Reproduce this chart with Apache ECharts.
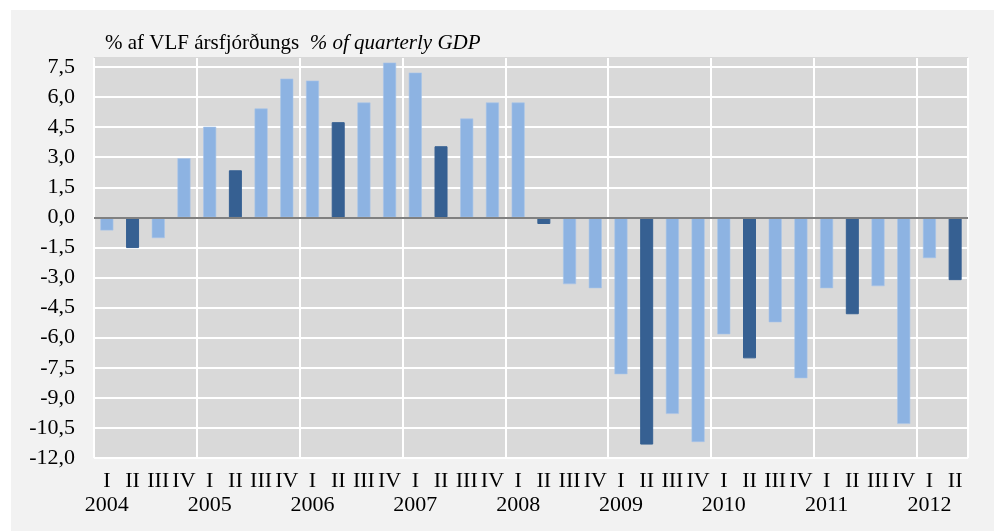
<!DOCTYPE html>
<html>
<head>
<meta charset="utf-8">
<script src="https://cdn.jsdelivr.net/npm/echarts@6/dist/echarts.min.js"></script>
<style>
html,body{margin:0;padding:0;background:#ffffff;}
#wrap{position:absolute;left:11px;top:10px;width:983px;height:521px;background:#F2F2F2;}
#chart{position:absolute;left:0;top:0;width:994px;height:531px;}
</style>
</head>
<body>
<div id="wrap"></div>
<div id="chart"></div>
<script>
const years = ["2004","2005","2006","2007","2008","2009","2010","2011","2012"];
const quarters = ["I","II","III","IV"];
const values = [
  -0.65, -1.53, -1.03, 2.95,
  4.52, 2.35, 5.43, 6.92,
  6.82, 4.75, 5.73, 7.72,
  7.22, 3.55, 4.93, 5.73,
  5.73, -0.33, -3.33, -3.53,
  -7.82, -11.33, -9.8, -11.2,
  -5.83, -7.03, -5.23, -8.02,
  -3.53, -4.83, -3.43, -10.3,
  -2.03, -3.13
];
const yTicks = {min: -12, max: 7.95, interval: 1.5};
const highlightQuarter = "II";

const categories = [];
const catQuarter = [];
const catYear = [];
for (let i = 0; i < values.length; i++) {
  const y = years[Math.floor(i / 4)];
  const q = quarters[i % 4];
  categories.push(y + " " + q);
  catQuarter.push(q);
  catYear.push(y);
}
const lightColor = "#8DB3E2";
const darkColor = "#366092";
const barData = values.map((v, i) => {
  const dark = catQuarter[i] === highlightQuarter;
  return {
    value: v,
    itemStyle: dark
      ? {color: darkColor, borderColor: darkColor, borderWidth: 1}
      : {color: lightColor, borderColor: "#A7C5EA", borderWidth: 0.6}
  };
});

// horizontal grid line colours: white for every tick, none for the top (max) edge
const nLines = Math.floor((7.5 - yTicks.min) / yTicks.interval) + 1;
const hLineColors = [];
for (let i = 0; i < nLines; i++) hLineColors.push("#FFFFFF");
hLineColors.push("#D9D9D9");

const chart = echarts.init(document.getElementById("chart"), null, {renderer: "canvas"});
const FONT = "Liberation Serif";
chart.setOption({
  backgroundColor: "transparent",
  animation: false,
  title: {
    left: 100,
    top: 28,
    text: "{a|% af VLF ársfjórðungs  }{b|% of quarterly GDP}",
    textStyle: {
      rich: {
        a: {fontFamily: FONT, fontSize: 21, fontWeight: "normal", color: "#000"},
        b: {fontFamily: FONT, fontSize: 21, fontWeight: "normal", color: "#000", fontStyle: "italic"}
      }
    }
  },
  grid: {left: 94, right: 26, top: 58, bottom: 73, show: true, backgroundColor: "#D9D9D9", borderWidth: 0},
  xAxis: {
    type: "category",
    data: categories,
    boundaryGap: true,
    axisLine: {show: false},
    axisTick: {show: false},
    splitLine: {show: true, interval: function (idx) { return idx % 4 === 0; }, lineStyle: {color: "#FFFFFF", width: 2}},
    axisLabel: {
      interval: 0,
      margin: 11,
      fontFamily: FONT,
      fontSize: 22,
      color: "#000",
      lineHeight: 24,
      hideOverlap: false,
      formatter: function (val, idx) {
        const q = catQuarter[idx];
        return q === "I" ? q + "\n" + catYear[idx] : q;
      }
    }
  },
  yAxis: {
    type: "value",
    min: yTicks.min,
    max: yTicks.max,
    interval: yTicks.interval,
    axisLine: {show: false},
    axisTick: {show: false},
    splitLine: {show: true, lineStyle: {color: hLineColors, width: 2}},
    axisLabel: {
      showMaxLabel: false,
      margin: 19,
      fontFamily: FONT,
      fontSize: 22,
      color: "#000",
      formatter: function (v) { return v.toFixed(1).replace(".", ","); }
    }
  },
  series: [{
    type: "bar",
    data: barData,
    barWidth: 13,
    markLine: {
      silent: true,
      symbol: "none",
      label: {show: false},
      lineStyle: {color: "#808080", width: 2, type: "solid"},
      data: [{yAxis: 0}]
    }
  }]
});
</script>
</body>
</html>
